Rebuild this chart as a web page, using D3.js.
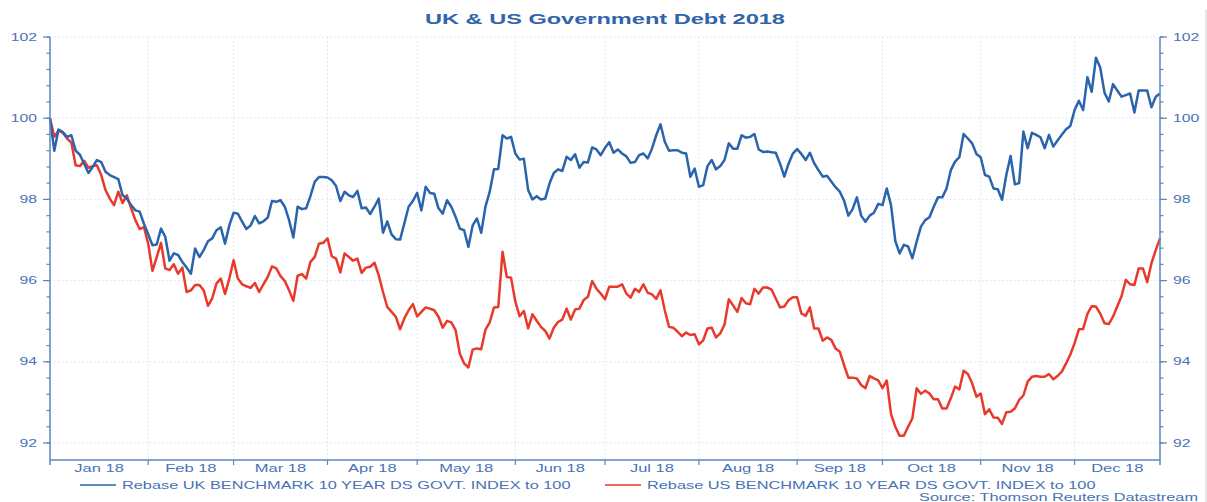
<!DOCTYPE html>
<html><head><meta charset="utf-8">
<script src="https://cdn.jsdelivr.net/npm/d3@7"></script>
<style>
html,body{margin:0;padding:0;background:#fff;}
text{font-family:"Liberation Sans",Arial,sans-serif;}
</style></head>
<body><svg id="chart" width="1207" height="502"></svg>
<script>
const title = "UK & US Government Debt 2018";
const monthLabels = ["Jan 18","Feb 18","Mar 18","Apr 18","May 18","Jun 18","Jul 18","Aug 18","Sep 18","Oct 18","Nov 18","Dec 18"];
const yTicks = [92,94,96,98,100,102];
const seriesNames = ["Rebase UK BENCHMARK 10 YEAR DS GOVT. INDEX to 100","Rebase US BENCHMARK 10 YEAR DS GOVT. INDEX to 100"];
const sourceText = "Source: Thomson Reuters Datastream";

// daily (weekday) values, 2018
const ukValues = [
100.0,99.2,99.72,99.66,99.54,99.58,99.2,99.1,98.88,98.65,
98.8,98.97,98.92,98.68,98.6,98.55,98.5,98.1,98.02,97.86,
97.73,97.7,97.4,97.14,96.87,96.89,97.28,97.08,96.49,96.67,
96.63,96.46,96.32,96.17,96.79,96.58,96.75,96.97,97.04,97.24,
97.31,96.91,97.36,97.67,97.65,97.45,97.27,97.36,97.59,97.41,
97.46,97.55,97.96,97.94,97.98,97.82,97.49,97.06,97.82,97.76,
97.78,98.08,98.43,98.55,98.55,98.54,98.47,98.33,97.96,98.19,
98.1,98.06,98.21,97.78,97.8,97.64,97.82,98.02,97.18,97.46,
97.14,97.02,97.01,97.41,97.82,97.96,98.16,97.73,98.31,98.16,
98.14,97.78,97.65,97.98,97.82,97.57,97.28,97.24,96.83,97.36,
97.53,97.18,97.82,98.19,98.74,98.75,99.58,99.5,99.54,99.13,
98.98,99.0,98.23,98.0,98.08,98.0,98.02,98.39,98.65,98.74,
98.7,99.05,98.97,99.11,98.78,98.92,98.91,99.28,99.23,99.09,
99.27,99.41,99.15,99.23,99.13,99.06,98.9,98.92,99.09,99.13,
99.01,99.25,99.58,99.85,99.42,99.2,99.21,99.21,99.15,99.13,
98.56,98.76,98.31,98.35,98.82,98.97,98.74,98.82,98.97,99.38,
99.25,99.25,99.58,99.52,99.54,99.61,99.23,99.17,99.18,99.16,
99.15,98.88,98.56,98.88,99.13,99.24,99.12,98.97,99.15,98.89,
98.72,98.56,98.58,98.44,98.3,98.19,97.97,97.6,97.76,98.05,
97.6,97.45,97.6,97.67,97.89,97.86,98.27,97.86,96.98,96.67,
96.88,96.84,96.55,96.96,97.33,97.49,97.56,97.82,98.05,98.05,
98.27,98.72,98.93,99.04,99.61,99.5,99.38,99.12,99.04,98.6,
98.56,98.27,98.25,97.99,98.6,99.07,98.37,98.4,99.67,99.26,
99.64,99.59,99.53,99.26,99.59,99.3,99.45,99.59,99.73,99.81,
100.2,100.43,100.2,101.01,100.65,101.49,101.25,100.63,100.41,100.84,
100.68,100.53,100.57,100.61,100.14,100.68,100.68,100.68,100.27,100.53,
100.61];

const usValues = [
100.0,99.54,99.7,99.64,99.5,99.4,98.84,98.82,98.95,98.78,
98.82,98.84,98.6,98.23,98.02,97.86,98.19,97.91,98.1,97.78,
97.49,97.27,97.32,96.91,96.24,96.58,96.93,96.3,96.26,96.4,
96.17,96.32,95.72,95.76,95.89,95.89,95.76,95.38,95.56,95.93,
96.05,95.67,96.05,96.5,96.05,95.91,95.86,95.82,95.94,95.72,
95.91,96.09,96.35,96.3,96.11,95.99,95.76,95.5,96.12,96.16,
96.05,96.46,96.58,96.91,96.93,97.04,96.6,96.54,96.2,96.67,
96.58,96.49,96.54,96.19,96.32,96.34,96.44,96.13,95.72,95.35,
95.23,95.11,94.8,95.07,95.27,95.42,95.12,95.23,95.34,95.31,
95.27,95.11,94.84,95.01,94.97,94.78,94.2,93.96,93.86,94.3,
94.33,94.31,94.79,94.97,95.34,95.35,96.71,96.09,96.07,95.48,
95.12,95.25,94.82,95.17,95.01,94.86,94.76,94.57,94.84,94.98,
95.04,95.31,95.04,95.29,95.31,95.52,95.6,95.99,95.8,95.68,
95.54,95.85,95.85,95.85,95.91,95.68,95.58,95.8,95.72,95.91,
95.7,95.66,95.55,95.76,95.27,94.86,94.84,94.74,94.63,94.72,
94.66,94.68,94.43,94.53,94.82,94.84,94.6,94.7,94.92,95.54,
95.39,95.23,95.57,95.44,95.42,95.8,95.68,95.83,95.83,95.78,
95.56,95.34,95.36,95.52,95.59,95.59,95.19,95.13,95.34,94.82,
94.82,94.52,94.6,94.54,94.33,94.25,93.92,93.61,93.61,93.59,
93.43,93.35,93.65,93.59,93.54,93.35,93.54,92.71,92.4,92.18,
92.18,92.4,92.61,93.35,93.21,93.29,93.22,93.08,93.08,92.85,
92.85,93.1,93.39,93.32,93.78,93.7,93.47,93.14,93.22,92.71,
92.83,92.63,92.62,92.47,92.76,92.77,92.85,93.06,93.17,93.51,
93.63,93.65,93.63,93.63,93.7,93.57,93.65,93.76,93.96,94.18,
94.46,94.8,94.81,95.18,95.37,95.36,95.19,94.95,94.93,95.11,
95.37,95.62,96.02,95.91,95.89,96.3,96.3,95.96,96.43,96.75,
97.04];

const BLUE = "#2a64ad", RED = "#e8392b", AXIS = "#5b86c0", TXT = "#4872b4", GRID = "#cfe2f7";
const SX = 1.57; // horizontal stretch of the lettering in the original

const svg = d3.select("#chart");
const L = 50, R = 1160, T = 37, B = 460;

// weekday calendar for 2018 (x axis is a business-day axis)
const days = d3.timeDay.range(new Date(2018,0,1), new Date(2019,0,1)).filter(d => d.getDay() % 6 !== 0);
const n = ukValues.length;
const x = d3.scaleLinear().domain([0, n - 1]).range([L, R]);
const y = d3.scaleLinear().domain([92, 102]).range([443, T]);

const monthStart = d3.range(12).map(m => days.findIndex(d => d.getMonth() === m));

function stretch(sel){
  sel.each(function(){
    const w = this.getComputedTextLength();
    d3.select(this).attr("textLength", w * SX).attr("lengthAdjust", "spacingAndGlyphs");
  });
  return sel;
}

// grid
const g = svg.append("g");
g.selectAll("line.hg").data(yTicks).join("line")
  .attr("x1", L).attr("x2", R).attr("y1", d => y(d)).attr("y2", d => y(d))
  .attr("stroke", GRID).attr("stroke-width", 1).attr("stroke-dasharray", "1.5,2.5");
g.selectAll("line.vg").data(monthStart.slice(1)).join("line")
  .attr("x1", d => x(d)).attr("x2", d => x(d)).attr("y1", T).attr("y2", B)
  .attr("stroke", GRID).attr("stroke-width", 1).attr("stroke-dasharray", "1.5,2.5");

// lines
const line = d3.line().x((d, i) => x(i)).y(d => y(d));
svg.append("path").datum(usValues).attr("d", line).attr("fill", "none")
  .attr("stroke", RED).attr("stroke-width", 2.5).attr("stroke-linejoin", "round");
svg.append("path").datum(ukValues).attr("d", line).attr("fill", "none")
  .attr("stroke", BLUE).attr("stroke-width", 2.5).attr("stroke-linejoin", "round");

// y axes (minor ticks every 0.4, major every 2)
const minor = d3.range(0, 26).map(k => 92 + k * 0.4);
function yAxis(xpos, dir){
  const ga = svg.append("g");
  ga.append("line").attr("x1", xpos).attr("x2", xpos).attr("y1", T).attr("y2", B + 5)
    .attr("stroke", AXIS).attr("stroke-width", 1.5);
  ga.selectAll("line.mn").data(minor).join("line")
    .attr("x1", xpos).attr("x2", xpos + dir * 3.5).attr("y1", d => y(d)).attr("y2", d => y(d))
    .attr("stroke", AXIS).attr("stroke-width", 1.2);
  ga.selectAll("line.mj").data(yTicks).join("line")
    .attr("x1", xpos).attr("x2", xpos + dir * 7).attr("y1", d => y(d)).attr("y2", d => y(d))
    .attr("stroke", AXIS).attr("stroke-width", 1.2);
  const t = ga.selectAll("text").data(yTicks).join("text")
    .attr("x", xpos + dir * 13).attr("y", d => y(d) + 3.6)
    .attr("text-anchor", dir < 0 ? "end" : "start")
    .attr("font-size", 10).attr("fill", TXT).text(d => d);
  stretch(t);
}
yAxis(L, -1);
yAxis(R, 1);

// x axis
const gx = svg.append("g");
gx.append("line").attr("x1", L).attr("x2", R).attr("y1", B).attr("y2", B).attr("stroke", AXIS).attr("stroke-width", 1.5);
gx.selectAll("line.t").data(monthStart.slice(1)).join("line")
  .attr("x1", d => x(d)).attr("x2", d => x(d)).attr("y1", B).attr("y2", B + 5)
  .attr("stroke", AXIS).attr("stroke-width", 1.2);
const ends = monthStart.slice(1).concat([n - 1]);
const xl = gx.selectAll("text").data(monthLabels).join("text")
  .attr("x", (d, i) => (x(monthStart[i]) + x(ends[i])) / 2).attr("y", 472)
  .attr("text-anchor", "middle").attr("font-size", 10.5).attr("fill", TXT).text(d => d);
stretch(xl);

// title
stretch(svg.append("text").attr("x", 605).attr("y", 24).attr("text-anchor", "middle")
  .attr("font-size", 15).attr("font-weight", "bold").attr("fill", "#3164aa").text(title));

// legend
const legX = [80, 605];
const legColors = [BLUE, RED];
seriesNames.forEach((s, i) => {
  svg.append("line").attr("x1", legX[i]).attr("x2", legX[i] + 36).attr("y1", 485).attr("y2", 485)
    .attr("stroke", legColors[i]).attr("stroke-width", 1.6);
  stretch(svg.append("text").attr("x", legX[i] + 42).attr("y", 489).attr("font-size", 10.4)
    .attr("fill", TXT).text(s));
});
stretch(svg.append("text").attr("x", 1198).attr("y", 501).attr("text-anchor", "end")
  .attr("font-size", 10.4).attr("fill", TXT).text(sourceText));

// right frame edge
svg.append("line").attr("x1", 1206).attr("x2", 1206).attr("y1", 10).attr("y2", 502)
  .attr("stroke", "#d0d0d0").attr("stroke-width", 1);
</script>
</body></html>
